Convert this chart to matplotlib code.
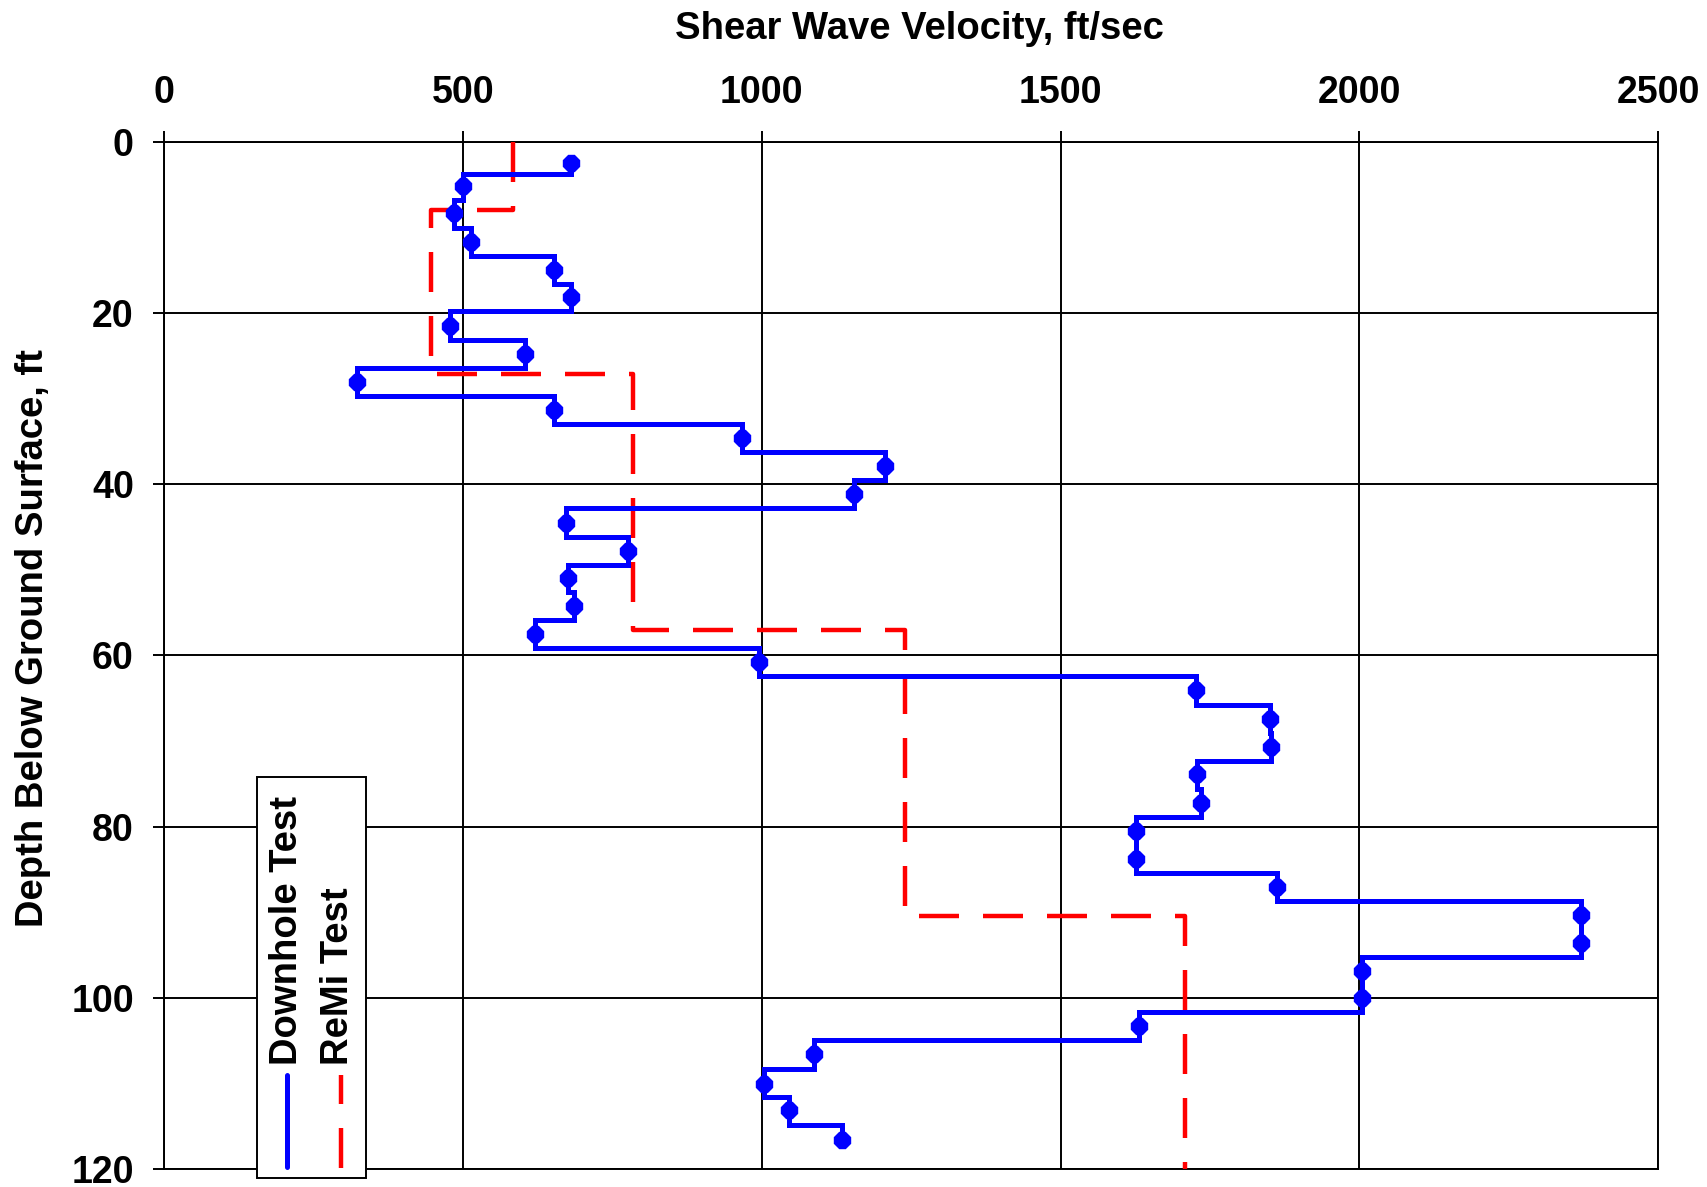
import numpy as np
import matplotlib
matplotlib.use("Agg")
import matplotlib.pyplot as plt
from matplotlib.patches import Rectangle
from matplotlib.lines import Line2D

plt.rcParams['font.family'] = ['Liberation Sans', 'DejaVu Sans']
plt.rcParams['font.weight'] = 'bold'

# downhole test: measurement depth (ft) and shear wave velocity (ft/sec)
dh_depth = [2.5, 5.2, 8.4, 11.7, 15.0, 18.2, 21.5, 24.8, 28.1, 31.4,
            34.6, 37.9, 41.2, 44.5, 47.8, 51.0, 54.2, 57.5, 60.8, 64.1,
            67.4, 70.7, 73.9, 77.2, 80.5, 83.8, 87.1, 90.3, 93.6, 96.9,
            100.0, 103.3, 106.6, 110.0, 113.1, 116.6]
dh_vel = [680, 500, 484, 514, 652, 680, 478, 604, 322, 652,
          966, 1206, 1155, 672, 776, 676, 685, 621, 995, 1727,
          1851, 1853, 1729, 1735, 1627, 1627, 1862, 2371, 2371, 2004,
          2004, 1631, 1088, 1004, 1046, 1135]

# ReMi test: layer boundaries (ft) and layer velocities (ft/sec)
remi_bounds = [0, 8.0, 27.1, 57.0, 90.4, 120]
remi_vel = [584, 446, 785, 1240, 1708]

x_ticks = [0, 500, 1000, 1500, 2000, 2500]
y_ticks = [0, 20, 40, 60, 80, 100, 120]

# step path for the downhole profile (change at the midpoint between readings)
dh_depth = np.array(dh_depth)
dh_vel = np.array(dh_vel)
mid = (dh_depth[:-1] + dh_depth[1:]) / 2
dx = [dh_vel[0]]
dy = [dh_depth[0]]
for i in range(len(mid)):
    dx += [dh_vel[i], dh_vel[i + 1]]
    dy += [mid[i], mid[i]]
dx.append(dh_vel[-1])
dy.append(dh_depth[-1])

# step path for ReMi
rx, ry = [], []
for i, v in enumerate(remi_vel):
    rx += [v, v]
    ry += [remi_bounds[i], remi_bounds[i + 1]]

W, H = 1707, 1187
fig = plt.figure(figsize=(W / 100, H / 100), dpi=100)
ax = fig.add_axes([164.4 / W, 1 - 1169.2 / H, (1658 - 164.4) / W, 1027.7 / H])

ax.plot(rx, ry, color='#ff0000', lw=3.2, dashes=(9.0, 5.4), zorder=3)
ax.plot(dx, dy, color='#0000ff', lw=3.6, solid_joinstyle='miter', zorder=4)
ax.plot(dh_vel, dh_depth, ls='none', marker='8', ms=12.5, color='#0000ff',
        mec='#0000ff', mew=1.0, zorder=5)

ax.set_xlim(0, 2500)
ax.set_ylim(120, 0)
ax.set_xticks(x_ticks)
ax.set_yticks(y_ticks)
ax.xaxis.tick_top()
ax.grid(True, color='black', lw=1.4)
for s in ax.spines.values():
    s.set_color('black')
    s.set_linewidth(1.4)
ax.tick_params(axis='x', direction='out', length=8, width=1.4, pad=14, labelsize=27)
ax.tick_params(axis='y', direction='out', length=8, width=1.4, pad=14, labelsize=27)

fig.text(919 / W, 1 - 29.4 / H, 'Shear Wave Velocity, ft/sec', ha='center', va='center',
         fontsize=27.5, fontweight='bold')
fig.text(33 / W, 1 - 638.5 / H, 'Depth Below Ground Surface, ft', ha='center', va='center',
         rotation=90, fontsize=27.5, fontweight='bold')

# vertical legend box
fig.patches.append(Rectangle((257 / W, 1 - 1178 / H), 109 / W, 401 / H,
                             transform=fig.transFigure, facecolor='white',
                             edgecolor='black', lw=1.4, zorder=10))
fig.lines.append(Line2D([286.7 / W, 286.7 / W], [1 - 1166.7 / H, 1 - 1075 / H],
                        transform=fig.transFigure, color='#0000ff', lw=3.6,
                        solid_capstyle='round', zorder=11))
fig.lines.append(Line2D([340.7 / W, 340.7 / W], [1 - 1168 / H, 1 - 1075 / H],
                        transform=fig.transFigure, color='#ff0000', lw=3.2,
                        dashes=(9.0, 5.4), zorder=11))
fig.text(287.3 / W, 1 - 1065 / H, 'Downhole Test', rotation=90, ha='center', va='bottom',
         fontsize=27.5, fontweight='bold', zorder=12)
fig.text(338.3 / W, 1 - 1065 / H, 'ReMi Test', rotation=90, ha='center', va='bottom',
         fontsize=27.5, fontweight='bold', zorder=12)

fig.savefig('out.png', dpi=100)
